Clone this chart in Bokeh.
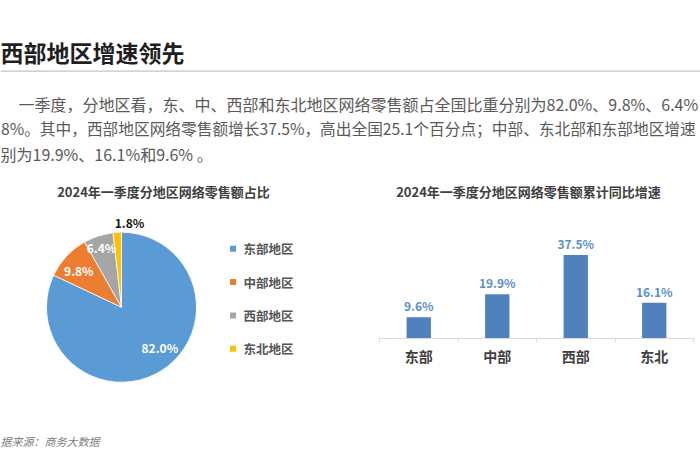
import math
from bokeh.plotting import figure
from bokeh.layouts import column, row
from bokeh.models import Range1d, ColumnDataSource, FixedTicker
from bokeh.embed import file_html
from bokeh.resources import INLINE
from bokeh.core.properties import value

FONT = "Noto Sans CJK SC"

# ---------------- data ----------------
page_title = "西部地区增速领先"
paragraph_lines = [
    "一季度，分地区看，东、中、西部和东北地区网络零售额占全国比重分别为82.0%、9.8%、6.4%",
    "8%。其中，西部地区网络零售额增长37.5%，高出全国25.1个百分点；中部、东北部和东部地区增速",
    "别为19.9%、16.1%和9.6% 。",
]
source_note = "据来源：商务大数据"

pie_title = "2024年一季度分地区网络零售额占比"
pie_regions = ["东部地区", "中部地区", "西部地区", "东北地区"]
pie_shares = [82.0, 9.8, 6.4, 1.8]
pie_colors = ["#5B9BD5", "#ED7D31", "#A5A5A5", "#FFC000"]

bar_title = "2024年一季度分地区网络零售额累计同比增速"
bar_regions = ["东部", "中部", "西部", "东北"]
bar_growth = [9.6, 19.9, 37.5, 16.1]


def blank(w, h, xr, yr):
    p = figure(width=w, height=h, x_range=xr, y_range=yr, x_axis_type=None,
               y_axis_type=None, toolbar_location=None, output_backend="svg",
               min_border=0)
    p.outline_line_color = None
    p.background_fill_color = "white"
    p.border_fill_color = "white"
    return p


# ---------------- header ----------------
header = blank(700, 172, Range1d(0, 700), Range1d(172, 0))
header.text(x=[0], y=[51], text=[page_title], text_font=value(FONT),
            text_font_size="23px", text_font_style="bold", text_color="#1F1F1F",
            text_baseline="middle", text_align="left")
header.segment(x0=[0], y0=[70.7], x1=[700], y1=[70.7], line_color="#C4C4C4",
               line_width=1.3)
header.text(x=[18, 0.5, 0], y=[103.3, 128.3, 153.3], text=paragraph_lines,
            text_font=value(FONT), text_font_size=["16px", "15.7px", "16px"],
            text_color="#595959", text_baseline="middle", text_align="left")

# ---------------- pie ----------------
pie = blank(350, 230, Range1d(0, 350), Range1d(0, 230))
cx, cy, r = 121, 95.3, 75
total = sum(pie_shares)
cum = 0.0
starts, ends, mids = [], [], []
for s in pie_shares:
    a0 = math.pi / 2 - 2 * math.pi * cum / total
    a1 = math.pi / 2 - 2 * math.pi * (cum + s) / total
    starts.append(a0)
    ends.append(a1)
    mids.append((a0 + a1) / 2)
    cum += s
pie_src = ColumnDataSource(dict(start=starts, end=ends, color=pie_colors,
                                region=pie_regions))
pie.wedge(x=cx, y=cy, radius=r, start_angle="start", end_angle="end",
          direction="clock", fill_color="color", line_color="white",
          line_width=0.8, source=pie_src)

label_rf = [0.74, 0.75, 0.84, 1.125]
label_nudge = [(8.6, 6.8), (-1.4, -1.6), (-0.5, -0.5), (12.8, 0.0)]
label_colors = ["white", "white", "white", "#111111"]
lx = [cx + f * r * math.cos(m) + n[0] for f, m, n in zip(label_rf, mids, label_nudge)]
ly = [cy + f * r * math.sin(m) + n[1] for f, m, n in zip(label_rf, mids, label_nudge)]
pie.text(x=lx, y=ly, text=[f"{v:.1f}%" for v in pie_shares], text_color=label_colors,
         text_font=value(FONT), text_font_size="12px", text_font_style="bold",
         text_align="center", text_baseline="middle")

leg_x, leg_top, leg_step = 232.5, 153.7, 33.3
leg_y = [leg_top - i * leg_step for i in range(len(pie_regions))]
pie.scatter(x=[leg_x] * len(pie_regions), y=leg_y, marker="square", size=6,
            fill_color=pie_colors, line_color=None)
pie.text(x=[leg_x + 10.5] * len(pie_regions), y=leg_y, text=pie_regions,
         text_font=value(FONT), text_font_size="12.5px", text_font_style="bold",
         text_color="#555555", text_baseline="middle", text_align="left")
pie.text(x=[163], y=[211.3], text=[pie_title], text_font=value(FONT),
         text_font_size="13px", text_font_style="bold", text_color="#404040",
         text_align="center", text_baseline="middle")

# ---------------- bar ----------------
Y_END = 74.6
bar = figure(width=350, height=230, x_range=Range1d(0, len(bar_regions)),
             y_range=Range1d(0, Y_END), y_axis_type=None, toolbar_location=None,
             output_backend="svg", min_border_left=29, min_border_right=7,
             min_border_top=0, min_border_bottom=64)
bar.outline_line_color = None
bar.grid.visible = False
bar.background_fill_color = "white"
bar.border_fill_color = "white"
bx = [i + 0.5 for i in range(len(bar_regions))]
bar_src = ColumnDataSource(dict(x=bx, top=bar_growth,
                                lab=[f"{v:.1f}%" for v in bar_growth]))
bar.vbar(x="x", top="top", width=0.31, fill_color="#4F81BD", line_color=None,
         source=bar_src)
bar.text(x="x", y="top", text="lab", source=bar_src, text_font=value(FONT),
         text_font_size="12px", text_font_style="bold", text_color="#5A8FCB",
         text_align="center", text_baseline="bottom", y_offset=-3)
px_per_unit = 166 / Y_END
bar.text(x=[len(bar_regions) / 2], y=[Y_END - 18.7 / px_per_unit], text=[bar_title],
         x_offset=-8, text_font=value(FONT), text_font_size="13px",
         text_font_style="bold", text_color="#404040", text_align="center",
         text_baseline="middle")

ax = bar.xaxis[0]
ax.ticker = FixedTicker(ticks=bx, minor_ticks=list(range(len(bar_regions) + 1)))
ax.major_label_overrides = {x: n for x, n in zip(bx, bar_regions)}
ax.axis_line_color = "#D9D9D9"
ax.axis_line_width = 1
ax.major_tick_line_color = None
ax.major_tick_out = 4
ax.major_tick_in = 0
ax.minor_tick_line_color = "#D9D9D9"
ax.minor_tick_out = 4
ax.minor_tick_in = 0
ax.major_label_text_font = FONT
ax.major_label_text_font_size = "14px"
ax.major_label_text_font_style = "bold"
ax.major_label_text_color = "#404040"
ax.major_label_standoff = 3

# ---------------- footer ----------------
footer = blank(700, 68, Range1d(0, 700), Range1d(470, 402))
footer.text(x=[0], y=[440.7], text=[source_note], text_font=value(FONT),
            text_font_size="11px", text_font_style="italic", text_color="#808080",
            text_baseline="middle", text_align="left")

layout = column(header, row(column(pie), column(bar), spacing=0), footer, spacing=0)

open("out.html", "w").write(file_html(layout, INLINE))
